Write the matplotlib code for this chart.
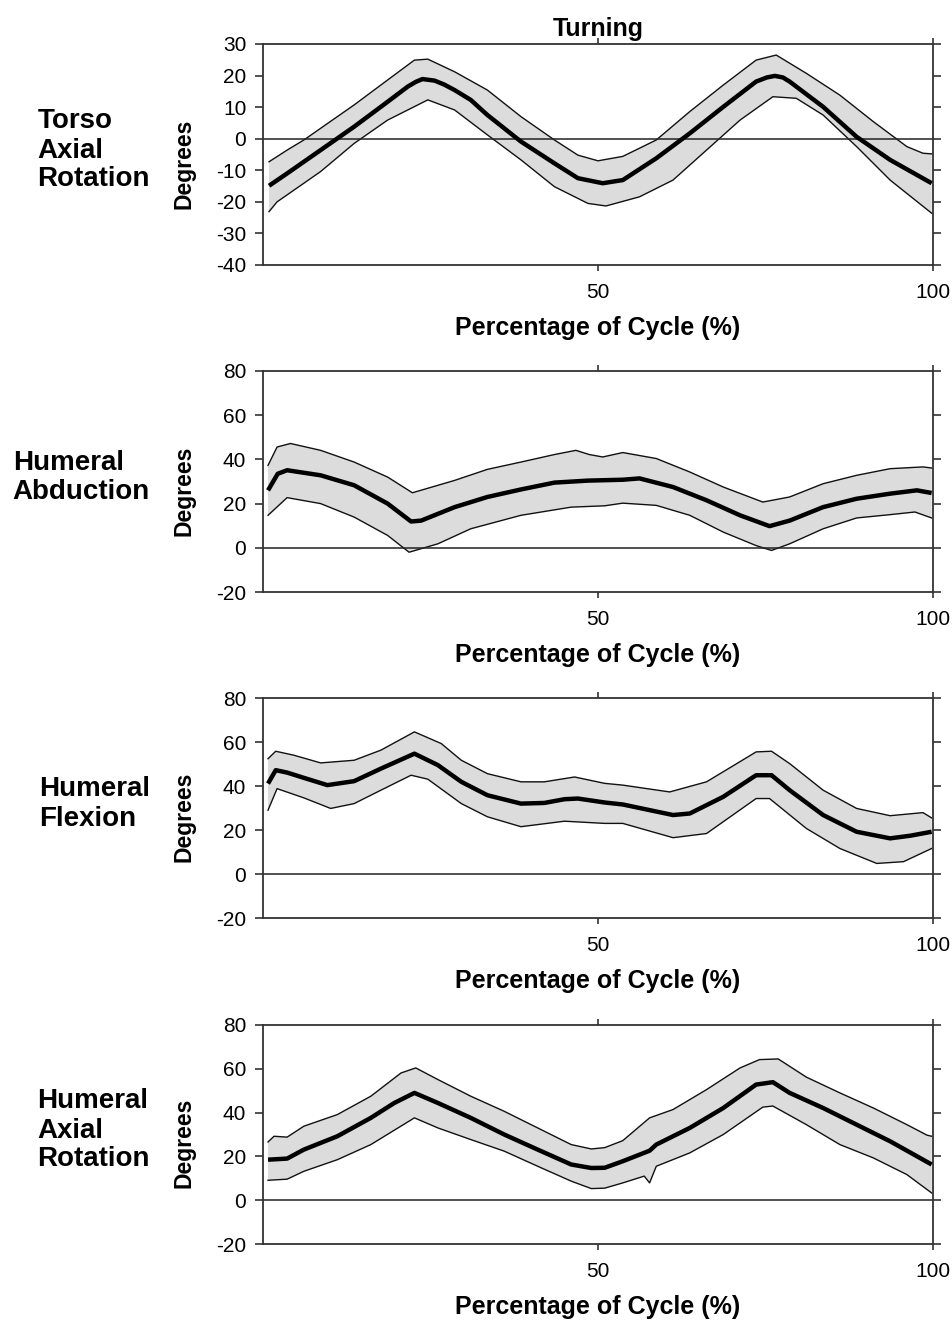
import numpy as np
import matplotlib
matplotlib.use('Agg')
import matplotlib.pyplot as plt

plt.rcParams['font.family'] = ['Liberation Sans', 'DejaVu Sans']
plt.rcParams['axes.unicode_minus'] = False

# Torso axial rotation (deg) - mean and +/- SD band
torso_mean_x = [0.9, 3.6, 8.6, 13.6, 18.6, 21.6, 22.8, 23.8, 25.6, 27.0, 28.6, 31.0, 33.5, 38.5, 43.5, 47.0,
                50.7, 53.7, 58.7, 63.7, 68.7, 73.6, 75.2, 76.4, 77.6, 78.6, 83.6, 88.6, 93.6, 99.8]
torso_mean = [-14.9, -11, -3.6, 3.8, 11.7, 16.5, 18.0, 18.9, 18.4, 17.2, 15.4, 12.3, 7.5, -0.9, -7.8, -12.5,
              -14.1, -13.1, -6.2, 1.7, 10.1, 18.1, 19.4, 19.9, 19.4, 18.1, 10.1, 0.6, -6.7, -14.1]
torso_upper_x = [0.9, 3.6, 6.1, 8.6, 13.6, 18.6, 22.6, 24.6, 28.6, 33.5, 38.5, 43.5, 47.0, 50.0, 53.7,
                 58.7, 63.7, 68.7, 73.6, 76.6, 81.1, 86.1, 91.1, 96.1, 98.5, 99.8]
torso_upper = [-7.3, -3.6, -0.4, 3.3, 10.7, 18.6, 24.9, 25.2, 21.2, 15.4, 7.0, -0.4, -5.2, -7.0, -5.6,
               -0.4, 8.6, 17.0, 24.9, 26.5, 20.7, 13.8, 5.4, -2.5, -4.6, -4.8]
torso_lower_x = [0.9, 2.1, 6.1, 8.6, 13.6, 18.6, 24.6, 28.6, 33.5, 38.5, 43.5, 48.5, 51.2, 56.2, 61.2,
                 66.2, 71.2, 76.1, 79.6, 83.6, 88.6, 93.6, 99.8]
torso_lower = [-23.1, -20, -14.1, -10.4, -1.5, 5.9, 12.3, 9.1, 1.2, -6.7, -15.2, -20.5, -21.3, -18.4, -13.1,
               -3.6, 5.9, 13.3, 12.8, 7.5, -2.5, -13.1, -23.6]

# Humeral abduction
abd_mean_x = [0.75, 2.2, 3.6, 8.6, 13.6, 18.6, 22.1, 23.6, 28.6, 33.5, 38.5, 43.5, 48.5, 53.7, 56.2,
              61.2, 66.2, 71.2, 75.6, 78.6, 83.6, 88.6, 93.6, 97.6, 99.8]
abd_mean = [26, 33.5, 35.1, 32.8, 28.3, 20, 11.9, 12.3, 18.4, 23, 26.4, 29.5, 30.4, 30.8, 31.4,
            27.5, 21.5, 14.7, 9.8, 12.3, 18.4, 22.2, 24.5, 26, 24.8]
abd_upper_x = [0.75, 2.1, 4.1, 8.6, 13.6, 18.6, 22.3, 28.6, 33.5, 38.5, 43.5, 46.7, 48.7, 50.7, 53.7,
               58.7, 63.7, 68.7, 74.6, 78.6, 83.6, 88.6, 93.6, 98.5, 99.8]
abd_upper = [37.3, 45.6, 47.2, 44.1, 38.8, 32, 24.9, 30.5, 35.5, 38.8, 42.2, 44.1, 42.2, 41.1, 43.1,
             40.4, 34.3, 27.5, 20.7, 23, 29, 32.8, 35.8, 36.6, 36.1]
abd_lower_x = [0.75, 3.6, 8.6, 13.6, 18.6, 21.8, 26.1, 31.0, 38.5, 46.0, 51.0, 53.7, 58.7, 63.7, 68.7,
               73.6, 75.9, 78.6, 83.6, 88.6, 93.6, 97.3, 99.8]
abd_lower = [14.7, 22.7, 20, 13.9, 5.6, -2.0, 1.8, 8.6, 14.7, 18.4, 19.0, 20.2, 19.2, 14.7, 7.1,
             1, -1.2, 1.8, 8.6, 13.5, 15, 16.2, 13.5]

# Humeral flexion
flex_mean_x = [0.75, 1.9, 3.6, 6.1, 9.6, 13.6, 17.6, 22.6, 26.1, 29.6, 33.5, 38.5, 42.0, 45.0, 47.0,
               51.0, 53.7, 61.2, 63.7, 68.7, 73.6, 75.9, 78.6, 83.6, 88.6, 93.6, 96.6, 99.8]
flex_mean = [41.1, 47.2, 46.1, 43.7, 40.4, 42.2, 47.9, 54.7, 49.5, 41.9, 35.8, 32, 32.3, 34, 34.3,
             32.5, 31.6, 26.8, 27.5, 35.1, 44.9, 44.9, 38.1, 26.8, 19.2, 16.2, 17.4, 19.2]
flex_upper_x = [0.75, 1.9, 4.6, 8.6, 13.6, 17.6, 22.6, 26.6, 29.6, 33.5, 38.5, 42.0, 46.5, 51.0, 53.7,
                60.7, 66.2, 73.6, 75.9, 78.6, 83.6, 88.6, 93.6, 98.5, 99.8]
flex_upper = [52.4, 55.8, 54, 50.5, 51.7, 56.3, 64.6, 59.3, 51.7, 45.6, 41.9, 41.9, 44.1, 41.2, 40.4,
              37.3, 41.9, 55.5, 55.8, 50.2, 38.1, 29.8, 26.5, 27.9, 25.5]
flex_lower_x = [0.75, 2.1, 6.1, 10.1, 13.6, 17.6, 22.1, 24.6, 29.6, 33.5, 38.5, 45.0, 51.0, 53.7, 61.2,
                66.2, 73.6, 75.6, 81.1, 86.1, 91.6, 95.6, 99.8]
flex_lower = [29, 38.8, 34.6, 29.8, 32, 38.1, 44.9, 43.1, 32, 26, 21.5, 24, 23.0, 23, 16.5,
              18.4, 34.3, 34.3, 20.7, 11.6, 4.8, 5.6, 11.6]

# Humeral axial rotation
har_mean_x = [0.75, 3.6, 6.1, 11.1, 16.1, 19.6, 22.6, 26.1, 31.0, 36.0, 41.0, 46.0, 49.0, 51.0, 53.7,
              57.7, 58.7, 63.7, 68.7, 73.6, 76.1, 78.6, 83.6, 88.6, 93.6, 99.8]
har_mean = [18.5, 19.0, 23.1, 29.2, 37.6, 44.4, 49, 44.4, 37.6, 30, 23.1, 16.3, 14.7, 14.8, 17.8,
            22.6, 25.4, 33, 42.1, 52.8, 53.9, 49, 42.1, 34.5, 26.9, 16.3]
har_upper_x = [0.75, 1.65, 3.6, 6.1, 11.1, 16.1, 20.6, 22.8, 26.1, 31.0, 36.0, 41.0, 46.0, 49.0, 51.0,
               53.7, 57.7, 61.2, 66.2, 71.2, 74.1, 76.9, 81.1, 86.1, 91.1, 96.1, 99.1, 99.8]
har_upper = [26.6, 29.2, 28.8, 33.8, 39.1, 47.5, 58.1, 60.4, 55.1, 47.5, 40.6, 33, 25.4, 23.4, 24,
             27.2, 37.6, 41.4, 50.5, 60.4, 64.2, 64.5, 56.2, 49, 42.1, 34.5, 29.7, 29.2]
har_lower_x = [0.75, 3.6, 6.1, 11.1, 16.1, 22.6, 26.1, 31.0, 36.0, 41.0, 46.0, 49.0, 51.0, 53.7, 56.9,
               57.7, 58.7, 63.7, 68.7, 74.6, 76.1, 81.1, 86.1, 91.1, 96.1, 99.8]
har_lower = [9.1, 9.6, 13.2, 18.5, 25.4, 37.6, 33, 27.7, 22.4, 15.5, 8.7, 5.3, 5.5, 7.9, 11,
             7.9, 15.5, 21.6, 30, 42.5, 43, 34.5, 25.4, 19.3, 11.7, 3.3]

row_labels = ['Torso\nAxial\nRotation', 'Humeral\nAbduction', 'Humeral\nFlexion', 'Humeral\nAxial\nRotation']
panels = [
    (torso_mean_x, torso_mean, torso_upper_x, torso_upper, torso_lower_x, torso_lower),
    (abd_mean_x, abd_mean, abd_upper_x, abd_upper, abd_lower_x, abd_lower),
    (flex_mean_x, flex_mean, flex_upper_x, flex_upper, flex_lower_x, flex_lower),
    (har_mean_x, har_mean, har_upper_x, har_upper, har_lower_x, har_lower),
]
ylims = [(-40, 30), (-20, 80), (-20, 80), (-20, 80)]
yticks = [np.arange(-40, 31, 10), np.arange(-20, 81, 20), np.arange(-20, 81, 20), np.arange(-20, 81, 20)]
xticks = [50, 100]

# axes boxes in pixels (top, bottom)
boxes = [(44, 265), (371, 592), (698, 918), (1025, 1244)]
W, H = 952.0, 1320.0
left_px, right_px = 263, 933

fig = plt.figure(figsize=(9.52, 13.2), dpi=100)

for i in range(4):
    top, bot = boxes[i]
    ax = fig.add_axes([left_px / W, 1 - bot / H, (right_px - left_px) / W, (bot - top) / H])
    mx, my, ux, uy, lx, ly = panels[i]

    # shaded band as polygon between upper and lower edge
    poly_x = np.concatenate([ux, lx[::-1]])
    poly_y = np.concatenate([uy, ly[::-1]])
    ax.fill(poly_x, poly_y, color='#dcdcdc', lw=0, zorder=1)
    ax.plot(ux, uy, color='#111111', lw=1.0, zorder=2)
    ax.plot(lx, ly, color='#111111', lw=1.0, zorder=2)
    ax.plot(mx, my, color='black', lw=3.2, zorder=3, solid_capstyle='butt', solid_joinstyle='round')
    ax.axhline(0, color='#222222', lw=1.1, zorder=2)

    ax.set_xlim(0, 100)
    ax.set_ylim(*ylims[i])
    ax.set_yticks(yticks[i])
    ax.set_xticks(xticks)

    for s in ax.spines.values():
        s.set_linewidth(1.3)
        s.set_color('#333333')

    ax.tick_params(axis='y', which='both', direction='out', length=6, width=1.2, color='#333333',
                   labelsize=15, pad=6, right=True, labelright=False)
    ax.tick_params(axis='x', which='both', direction='out', length=4, width=1.2, color='#333333',
                   labelsize=15, pad=9, top=True, labeltop=False)

    ax.set_xlabel('Percentage of Cycle (%)', fontsize=18, fontweight='bold', labelpad=10)
    ax.set_ylabel('Degrees', fontsize=16.5, fontweight='bold', va='center')
    ax.yaxis.set_label_coords(-0.118, 0.46)

    fig.text(150 / W, 1 - ((top + bot) / 2 - 4) / H, row_labels[i], ha='right', va='center',
             multialignment='left', fontsize=20, fontweight='bold', linespacing=1.15)

    if i == 0:
        ax.set_title('Turning', fontsize=18, fontweight='bold', pad=6)

fig.savefig('out.png', dpi=100)
